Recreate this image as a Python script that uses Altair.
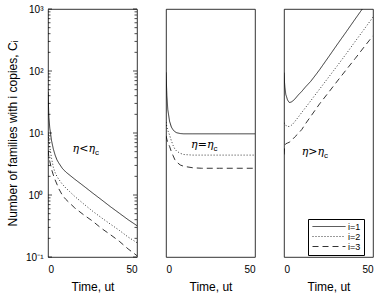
import altair as alt
import pandas as pd

# ---------------- data ----------------
series = ["i=1", "i=2", "i=3"]

# panel 1: eta < eta_c
t_p1 = [0, 0.5, 1, 2, 3, 4, 5, 6, 8, 10, 15, 20, 25, 30, 35, 40, 45, 50]
c1_p1 = [46, 18, 12, 7.5, 5.5, 4.4, 3.7, 3.3, 2.7, 2.35, 1.8, 1.4, 1.08, 0.84, 0.65, 0.51, 0.40, 0.32]
c2_p1 = [9.6, 7.5, 6.0, 3.9, 2.8, 2.3, 2.0, 1.8, 1.5, 1.3, 0.95, 0.72, 0.55, 0.43, 0.34, 0.27, 0.21, 0.17]
c3_p1 = [5.2, 4.2, 3.5, 2.6, 2.1, 1.75, 1.5, 1.27, 1.0, 0.85, 0.62, 0.48, 0.38, 0.29, 0.23, 0.18, 0.135, 0.105]

# panel 2: eta = eta_c
t_p2 = [0, 0.5, 1, 2, 3, 4, 5, 6, 8, 10, 15, 20, 30, 40, 50]
c1_p2 = [95, 40, 24, 15.5, 12.5, 11.2, 10.5, 10.1, 9.8, 9.7, 9.7, 9.7, 9.7, 9.7, 9.7]
c2_p2 = [15, 12.5, 11, 9.3, 7.5, 6.3, 5.5, 5.1, 4.7, 4.5, 4.4, 4.4, 4.4, 4.4, 4.4]
c3_p2 = [9, 7.9, 7.0, 6.1, 5.0, 4.3, 3.7, 3.4, 3.05, 2.9, 2.75, 2.7, 2.7, 2.7, 2.7]

# panel 3: eta > eta_c
t_p3 = [0, 0.3, 0.5, 1, 2, 3, 4, 5, 6, 8, 10, 12, 15, 18, 20, 25, 30, 35, 40, 45, 50]
c1_p3 = [94, 65, 55, 42, 34, 31, 31.5, 33, 35, 41, 47, 55, 68, 88, 105, 168, 270, 430, 690, 1100, 1750]
c2_p3 = [14.7, 14.1, 13.8, 13.3, 12.8, 12.7, 13.2, 14, 15.2, 18, 21.5, 25.5, 33, 43, 51, 79, 122, 190, 300, 470, 740]
c3_p3 = [4.5, 6.0, 6.3, 6.7, 6.9, 7.1, 7.5, 8.0, 8.6, 9.8, 11.4, 14, 18.5, 24.5, 29.5, 45, 69, 105, 159, 244, 370]

# annotation labels
ann_main = ["η<η", "η=η", "η>η"]
ann_t = [26.4, 26.7, 22.5]
ann_c = [4.9, 5.7, 4.4]

# y tick labels
y_major = [0.1, 1, 10, 100, 1000]
y_major_labels = ["10⁻¹", "10⁰", "10¹", "10²", "10³"]
y_minor = [d * k for d in [0.1, 1, 10, 100] for k in range(2, 10)]

x_ticks = [0, 50]

# ---------------- build ----------------
FONT = "Liberation Sans"
W, H = 89, 248


def long_df(t, ys):
    rows = []
    for s, y in zip(series, ys):
        for tt, v in zip(t, y):
            rows.append({"t": tt, "C": v, "series": s})
    return pd.DataFrame(rows)


yscale = alt.Scale(type="log", domain=[0.1, 1000], nice=False)
xscale = alt.Scale(domain=[0, 50], nice=False, zero=False)

label_expr = " : ".join(
    f"datum.value == {v} ? '{l}'" for v, l in zip(y_major, y_major_labels)
) + " : ''"

x_axis = alt.Axis(values=x_ticks, title="Time, ut", tickSize=0, domain=False, grid=False,
                  labelFont=FONT, labelFontSize=10, labelPadding=7, labelColor="black",
                  titleFont=FONT, titleFontSize=12, titleFontWeight="normal",
                  titlePadding=7, titleColor="black")


def panel(k, df, first, with_legend):
    dash_scale = alt.Scale(domain=series, range=[[1, 0], [1, 2], [6, 4]])
    if with_legend:
        leg = alt.Legend(title=None, orient="none", legendX=24, legendY=210,
                         symbolType="M-1,0H10", symbolSize=36, symbolStrokeWidth=0.8,
                         symbolStrokeColor="black", labelFont=FONT, labelFontSize=9,
                         labelColor="black", labelOffset=28, strokeColor="black",
                         padding=3, rowPadding=0, direction="vertical", labelLimit=40)
    else:
        leg = None
    if first:
        y_axis = alt.Axis(values=y_major, labelExpr=label_expr, tickSize=0, domain=False,
                          grid=False, title="Number of families with i copies, Cᵢ",
                          labelFont=FONT, labelFontSize=10, labelPadding=5, labelColor="black",
                          titleFont=FONT, titleFontSize=12, titleFontWeight="normal",
                          titlePadding=6, titleColor="black")
    else:
        y_axis = None
    lines = alt.Chart(df).mark_line(color="black", strokeWidth=0.8, clip=True).encode(
        x=alt.X("t:Q", scale=xscale, axis=x_axis),
        y=alt.Y("C:Q", scale=yscale, axis=y_axis),
        strokeDash=alt.StrokeDash("series:N", scale=dash_scale, legend=leg),
    )
    ann_df = pd.DataFrame({"t": [ann_t[k]], "C": [ann_c[k]], "txt": [ann_main[k]], "sub": ["c"]})
    main_txt = alt.Chart(ann_df).mark_text(align="right", baseline="alphabetic", font="DejaVu Serif",
                                           fontStyle="italic", fontSize=11, color="black").encode(
        x=alt.X("t:Q", scale=xscale), y=alt.Y("C:Q", scale=yscale), text="txt:N")
    sub_txt = alt.Chart(ann_df).mark_text(align="left", baseline="alphabetic", font=FONT,
                                          fontSize=8, dx=0, dy=3, color="black").encode(
        x=alt.X("t:Q", scale=xscale), y=alt.Y("C:Q", scale=yscale), text="sub:N")
    layers = [lines, main_txt, sub_txt]
    if first:
        maj = pd.DataFrame({"v": y_major})
        mnr = pd.DataFrame({"v": y_minor})
        for d, ln in [(maj, 4), (mnr, 2.5)]:
            layers.append(alt.Chart(d).mark_rule(color="black", strokeWidth=0.7).encode(
                y=alt.Y("v:Q", scale=yscale), x=alt.value(0), x2=alt.value(ln)))
            layers.append(alt.Chart(d).mark_rule(color="black", strokeWidth=0.7).encode(
                y=alt.Y("v:Q", scale=yscale), x=alt.value(W - ln), x2=alt.value(W)))
    return alt.layer(*layers).properties(width=W, height=H)


p1 = panel(0, long_df(t_p1, [c1_p1, c2_p1, c3_p1]), True, False)
p2 = panel(1, long_df(t_p2, [c1_p2, c2_p2, c3_p2]), False, False)
p3 = panel(2, long_df(t_p3, [c1_p3, c2_p3, c3_p3]), False, True)

chart = alt.hconcat(p1, p2, p3, spacing=29, bounds="flush").resolve_legend(
    strokeDash="independent"
).properties(
    padding={"left": 6, "top": 3, "right": 0, "bottom": 0},
    background="white",
).configure_view(stroke="black", strokeWidth=0.8)

chart.save("out.html", embed_options={"renderer": "svg", "actions": False})
